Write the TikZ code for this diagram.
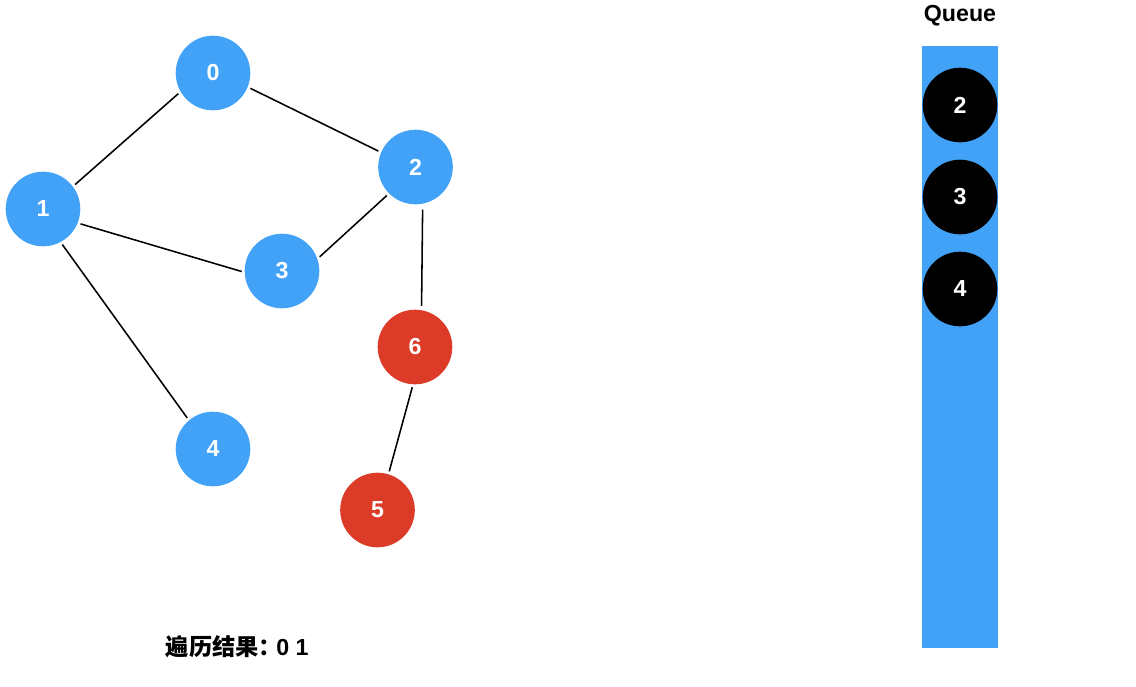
\documentclass[tikz,border=0pt]{standalone}
\usepackage{fontspec}
\setmainfont{Liberation Sans}
\newfontfamily\cjk{Noto Sans CJK SC}
\usetikzlibrary{positioning}
\definecolor{nodeblue}{HTML}{42A2F8}
\definecolor{nodered}{HTML}{DC3B28}
\tikzset{
  vtx/.style={circle, minimum size=1.865cm, inner sep=0pt, text=white, font=\fontsize{16.5}{18}\selectfont\bfseries},
  vtxb/.style={vtx, fill=nodeblue},
  vtxr/.style={vtx, fill=nodered},
  vtxq/.style={vtx, fill=black},
  edg/.style={line width=1.1pt, draw=black, shorten <=2pt, shorten >=2pt},
  lbl/.style={font=\fontsize{16.5}{18}\selectfont\bfseries, text=black},
}
\begin{document}
\begin{tikzpicture}[x=0.025cm, y=-0.025cm]
  \useasboundingbox (0,0) rectangle (1136,686);
  % graph
  \node[vtxb] (n0) at (213,73) {0};
  \node[vtxb] (n1) at (43,209) {1};
  \node[vtxb] (n2) at (415.5,167) {2};
  \node[vtxb] (n3) at (282,271) {3};
  \node[vtxb] (n4) at (213,449) {4};
  \node[vtxr] (n6) at (415,347) {6};
  \node[vtxr] (n5) at (377.5,510) {5};
  \draw[edg] (n0.210) -- (n1.37);
  \draw[edg] (n0.-22) -- (n2.157);
  \draw[edg] (n1.-22) -- (n3.182);
  \draw[edg] (n1.-62) -- (n4.130);
  \draw[edg] (n2.225) -- (n3.19);
  \draw[edg, shorten <=4pt, shorten >=3pt] (n2.-79) -- (n6.80);
  \draw[edg] (n6.-93) -- (n5.73);
  % queue
  \fill[nodeblue] (922,46) rectangle (998,648);
  \node[lbl] (qtitle) at (960,16) {Queue};
  \foreach \v/\y in {2/105,3/197,4/289}{
    \node[vtxq] (q\v) at (960,\y) {\v};
  }
  \node[lbl, anchor=west] (result) at (161,647) {{\cjk\bfseries 遍历结果：}\kern-4pt 0 1};
\end{tikzpicture}
\end{document}
